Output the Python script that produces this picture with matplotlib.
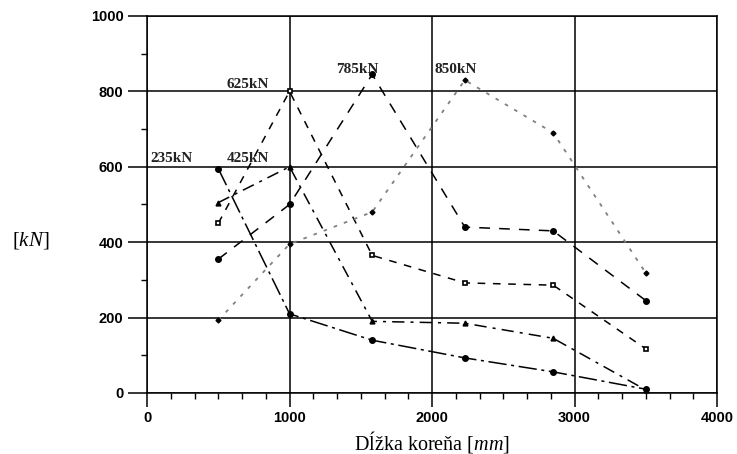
"""Force along the root length for five load levels (scan redraw)."""
import matplotlib
matplotlib.use("Agg")
import matplotlib.pyplot as plt
from matplotlib.ticker import MultipleLocator

plt.rcParams["mathtext.fontset"] = "custom"
plt.rcParams["mathtext.rm"] = "Liberation Serif"
plt.rcParams["mathtext.it"] = "Liberation Serif:italic"

# root length positions [mm]
x_pos = [500, 1000, 1580, 2230, 2850, 3500]

# force per load level [kN]
f_235 = [595, 210, 140, 93, 56, 10]
f_425 = [505, 600, 190, 185, 145, 8]
f_625 = [450, 800, 365, 292, 286, 117]
f_785 = [355, 500, 845, 440, 430, 245]
f_850 = [193, 395, 480, 830, 690, 318]

labels = ["235kN", "425kN", "625kN", "785kN", "850kN"]
label_xy = [(20, 612), (560, 612), (560, 808), (1330, 848), (2020, 848)]


def main():
    fig = plt.figure(figsize=(7.37, 4.54), dpi=100)
    ax = fig.add_axes([0.1995, 0.1344, 0.7735, 0.8304])

    ax.plot(x_pos, f_235, color="black", lw=1.1, ls=(0, (12, 3, 2, 3)),
            marker="o", ms=4, mfc="black", mec="black")
    ax.plot(x_pos, f_425, color="black", lw=1.1, ls=(0, (8, 4, 2, 4)),
            marker="^", ms=3.5, mfc="black", mec="black")
    ax.plot(x_pos, f_625, color="black", lw=1.1, ls=(0, (5, 5)),
            marker="s", ms=3.5, mfc="white", mec="black", mew=1.2)
    ax.plot(x_pos, f_785, color="black", lw=1.1, ls=(0, (7, 6)),
            marker="o", ms=4, mfc="black", mec="black")
    ax.plot(x_pos, f_850, color="#808080", lw=1.3, ls=(0, (2, 4)),
            marker="D", ms=2.5, mfc="black", mec="black")

    for txt, (tx, ty) in zip(labels, label_xy):
        ax.text(tx, ty, txt, family="Liberation Serif", fontsize=11,
                fontweight="bold", color="#222222")

    ax.set_xlim(0, 4000)
    ax.set_ylim(0, 1000)
    ax.xaxis.set_major_locator(MultipleLocator(1000))
    ax.xaxis.set_minor_locator(MultipleLocator(1000 / 6))
    ax.yaxis.set_major_locator(MultipleLocator(200))
    ax.yaxis.set_minor_locator(MultipleLocator(100))
    ax.grid(True, which="major", color="black", lw=1.1)
    ax.set_axisbelow(True)
    for s in ax.spines.values():
        s.set_linewidth(1.1)
    ax.tick_params(which="major", direction="out", length=10, width=1.1,
                   labelsize=10.5, pad=3)
    ax.tick_params(which="minor", direction="out", length=4, width=1)
    ax.tick_params(axis="y", which="major", length=14)
    for lab in ax.get_xticklabels() + ax.get_yticklabels():
        lab.set_family("Liberation Sans")
        lab.set_fontweight("bold")

    ax.set_xlabel(r"Dĺžka koreňa [$\it{mm}$]", family="Liberation Serif",
                  fontsize=14.5, labelpad=3)
    fig.text(0.042, 0.47, r"[$\it{kN}$]", family="Liberation Serif",
             fontsize=15, ha="center", va="center")

    fig.savefig("out.png", dpi=100)
    plt.close(fig)


if __name__ == "__main__":
    main()
